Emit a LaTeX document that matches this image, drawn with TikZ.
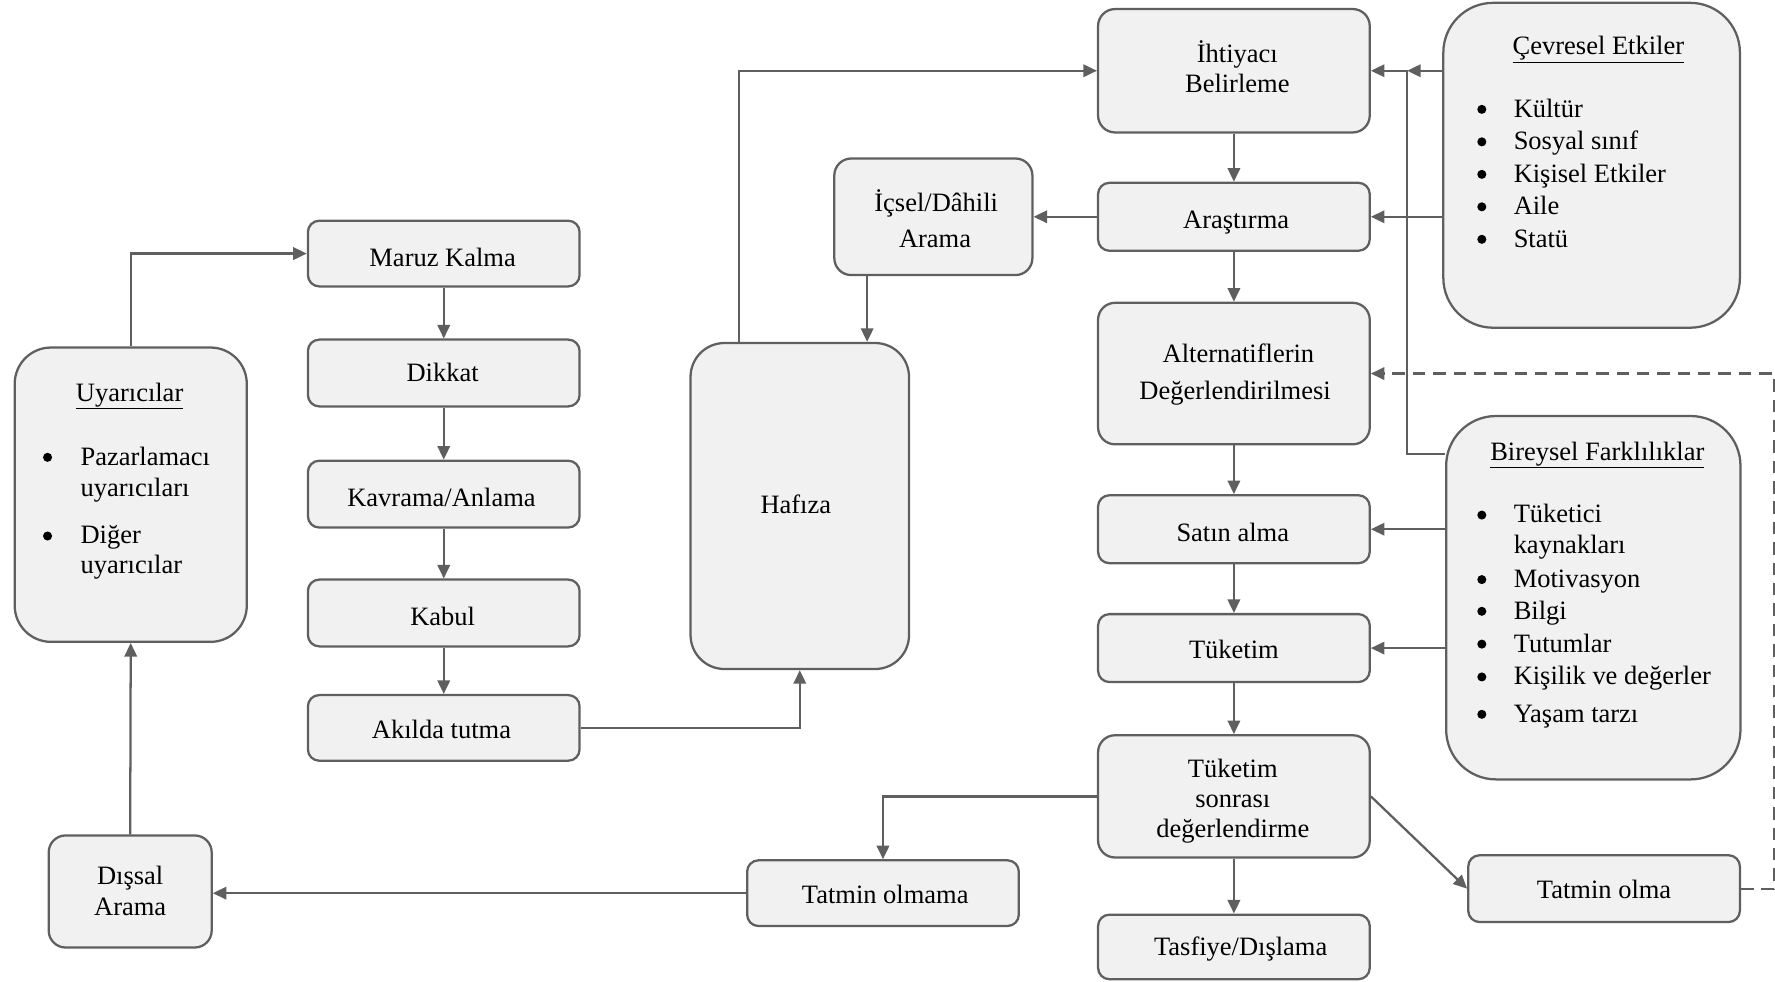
\documentclass[tikz,border=0pt]{standalone}
\usepackage{fontspec}
\setmainfont{Liberation Serif}
\usetikzlibrary{arrows.meta}
\definecolor{edge}{HTML}{5F5F5F}
\definecolor{panel}{HTML}{F1F1F1}

\begin{document}
\begin{tikzpicture}[x=1pt,y=-1pt,
  font=\fontsize{23.4}{28}\selectfont,
  box/.style={draw=edge, fill=panel, line width=2pt, inner sep=0pt, rounded corners=#1},
  box/.default=10pt,
  sz/.style 2 args={minimum width=#1, minimum height=#2},
  lbl/.style={anchor=base, inner sep=0pt, yshift=-2pt},
  item/.style={anchor=base west, inner sep=0pt, yshift=-2pt},
  dot/.style={circle, fill=black, inner sep=0pt, minimum size=8pt, yshift=-2pt},
  flow/.style={draw=edge, line width=2pt, -{Triangle[length=12pt,width=11pt]}},
  back/.style={flow, dash pattern=on 11pt off 7pt}]
\useasboundingbox (0,0) rectangle (1568,867);

% ---------- boxes ----------
\node[box=32pt, sz={205}{260}] (uyar) at (115.5,437) {};
\node[box, sz={240}{58}] (maruz) at (392,224) {};
\node[box, sz={240}{59}] (dikkat) at (392,329.5) {};
\node[box, sz={240}{59}] (kavrama) at (392,436.5) {};
\node[box, sz={240}{59}] (kabul) at (392,541.5) {};
\node[box, sz={240}{58}] (akil) at (392,643) {};
\node[box=15pt, sz={144}{99}] (dissal) at (115,787.5) {};
\node[box=30pt, sz={193}{288}] (hafiza) at (706.5,447) {};
\node[box=15pt, sz={175}{103}] (icsel) at (824.5,191.5) {};
\node[box=15pt, sz={240}{109}] (ihtiyac) at (1090,62.5) {};
\node[box, sz={240}{60}] (arastirma) at (1090,191.5) {};
\node[box=15pt, sz={240}{125}] (altern) at (1090,330) {};
\node[box, sz={240}{60}] (satin) at (1090,467.5) {};
\node[box, sz={240}{60}] (tuketim) at (1090,572.5) {};
\node[box=15pt, sz={240}{108}] (sonrasi) at (1090,703.5) {};
\node[box, sz={240}{57}] (tasfiye) at (1090,836.5) {};
\node[box, sz={240}{58}] (olmama) at (780,789) {};
\node[box, sz={240}{59}] (olma) at (1417,785) {};
\node[box=44pt, sz={262}{287}] (cevre) at (1406,146) {};
\node[box=44pt, sz={260}{321}] (birey) at (1407.5,528) {};

% ---------- texts ----------
\node[lbl] (tUyar) at (114.5,352.5) {\underline{Uyarıcılar}};
\node[dot] (bU1) at (42,402) {};
\node[item] (u1) at (71,409) {Pazarlamacı};
\node[item] (u2) at (71,436.5) {uyarıcıları};
\node[dot] (bU2) at (42,471.5) {};
\node[item] (u3) at (71,478.5) {Diğer};
\node[item] (u4) at (71,505) {uyarıcılar};

\node[lbl] (tMaruz) at (391,233) {Maruz Kalma};
\node[lbl] (tDikkat) at (391,335) {Dikkat};
\node[lbl] (tKavrama) at (390,445) {Kavrama/Anlama};
\node[lbl] (tKabul) at (391,550.5) {Kabul};
\node[lbl] (tAkil) at (390,650.5) {Akılda tutma};

\node[lbl] (tDis1) at (115,779) {Dışsal};
\node[lbl] (tDis2) at (115,807) {Arama};

\node[lbl] (tHafiza) at (703,452) {Hafıza};
\node[lbl] (tIc1) at (827,184.5) {İçsel/Dâhili};
\node[lbl] (tIc2) at (826,216.5) {Arama};

\node[lbl] (tIht1) at (1093,53) {İhtiyacı};
\node[lbl] (tIht2) at (1093,79.5) {Belirleme};
\node[lbl] (tAras) at (1092,199.5) {Araştırma};
\node[lbl] (tAlt1) at (1094,318) {Alternatiflerin};
\node[lbl] (tAlt2) at (1091,351) {Değerlendirilmesi};
\node[lbl] (tSatin) at (1089,476) {Satın alma};
\node[lbl] (tTuk) at (1090,580) {Tüketim};
\node[lbl] (tSon1) at (1089,684.5) {Tüketim};
\node[lbl] (tSon2) at (1089,711) {sonrası};
\node[lbl] (tSon3) at (1089,738) {değerlendirme};
\node[lbl] (tTasf) at (1096,842) {Tasfiye/Dışlama};
\node[lbl] (tOlmama) at (782,796) {Tatmin olmama};
\node[lbl] (tOlma) at (1417,792) {Tatmin olma};

\node[lbl] (tCevre) at (1412,46.5) {\underline{Çevresel Etkiler}};
\foreach \t [count=\i] in {Kültür,Sosyal sınıf,Kişisel Etkiler,Aile,Statü}{
  \node[dot] (bC\i) at (1309,101.6+28.7*\i-28.7-7) {};
  \node[item] (c\i) at (1337,101.6+28.7*\i-28.7) {\t};
}

\node[lbl] (tBirey) at (1411,404.5) {\underline{Bireysel Farklılıklar}};
\node[dot] (bB1) at (1309,453) {};
\node[item] (b1) at (1337,460) {Tüketici};
\node[item] (b2) at (1337,487) {kaynakları};
\node[dot] (bB2) at (1309,510) {};
\node[item] (b3) at (1337,517) {Motivasyon};
\node[dot] (bB3) at (1309,538) {};
\node[item] (b4) at (1337,545) {Bilgi};
\node[dot] (bB4) at (1309,567) {};
\node[item] (b5) at (1337,574) {Tutumlar};
\node[dot] (bB5) at (1309,596) {};
\node[item] (b6) at (1337,603) {Kişilik ve değerler};
\node[dot] (bB6) at (1309,629) {};
\node[item] (b7) at (1337,636.5) {Yaşam tarzı};

% ---------- connectors ----------
\draw[flow] (uyar.north) |- (maruz.west);
\draw[flow] (maruz) -- (dikkat);
\draw[flow] (dikkat) -- (kavrama);
\draw[flow] (kavrama) -- (kabul);
\draw[flow] (kabul) -- (akil);
\draw[flow] (akil.east) -| (hafiza.south);
\draw[flow] ([xshift=-53.5pt]hafiza.north) |- (ihtiyac.west);
\draw[flow] ([xshift=-58.5pt]icsel.south) -- ([xshift=-58.5pt]icsel.south |- hafiza.north);
\draw[flow] (arastirma.west) -- (icsel.east);

\draw[flow] (ihtiyac) -- (arastirma);
\draw[flow] (arastirma) -- (altern);
\draw[flow] (altern) -- (satin);
\draw[flow] (satin) -- (tuketim);
\draw[flow] (tuketim) -- (sonrasi);
\draw[flow] (sonrasi) -- (tasfiye);

\coordinate (jTop) at (1243,62.5);
\coordinate (jBot) at (1243,401);
\draw[flow] (ihtiyac.east -| cevre.west) -- (jTop);
\draw[flow] (jBot -| birey.west) -- (jBot) -- (jTop) -- (ihtiyac.east);
\draw[flow] (arastirma.east -| cevre.west) -- (arastirma.east);
\draw[flow] (satin.east -| birey.west) -- (satin.east);
\draw[flow] (tuketim.east -| birey.west) -- (tuketim.east);

\draw[flow] (sonrasi.west) -| (olmama.north);
\draw[flow] (sonrasi.east) -- (olma.west);
\draw[flow] (olmama.west) -- (olmama.west -| dissal.east);
\draw[flow] (dissal.north) -- (uyar.south);

\coordinate (dR) at (1567,785);
\draw[back] (olma.east) -- (dR) -- (dR |- altern.east) -- (altern.east);
\end{tikzpicture}
\end{document}
